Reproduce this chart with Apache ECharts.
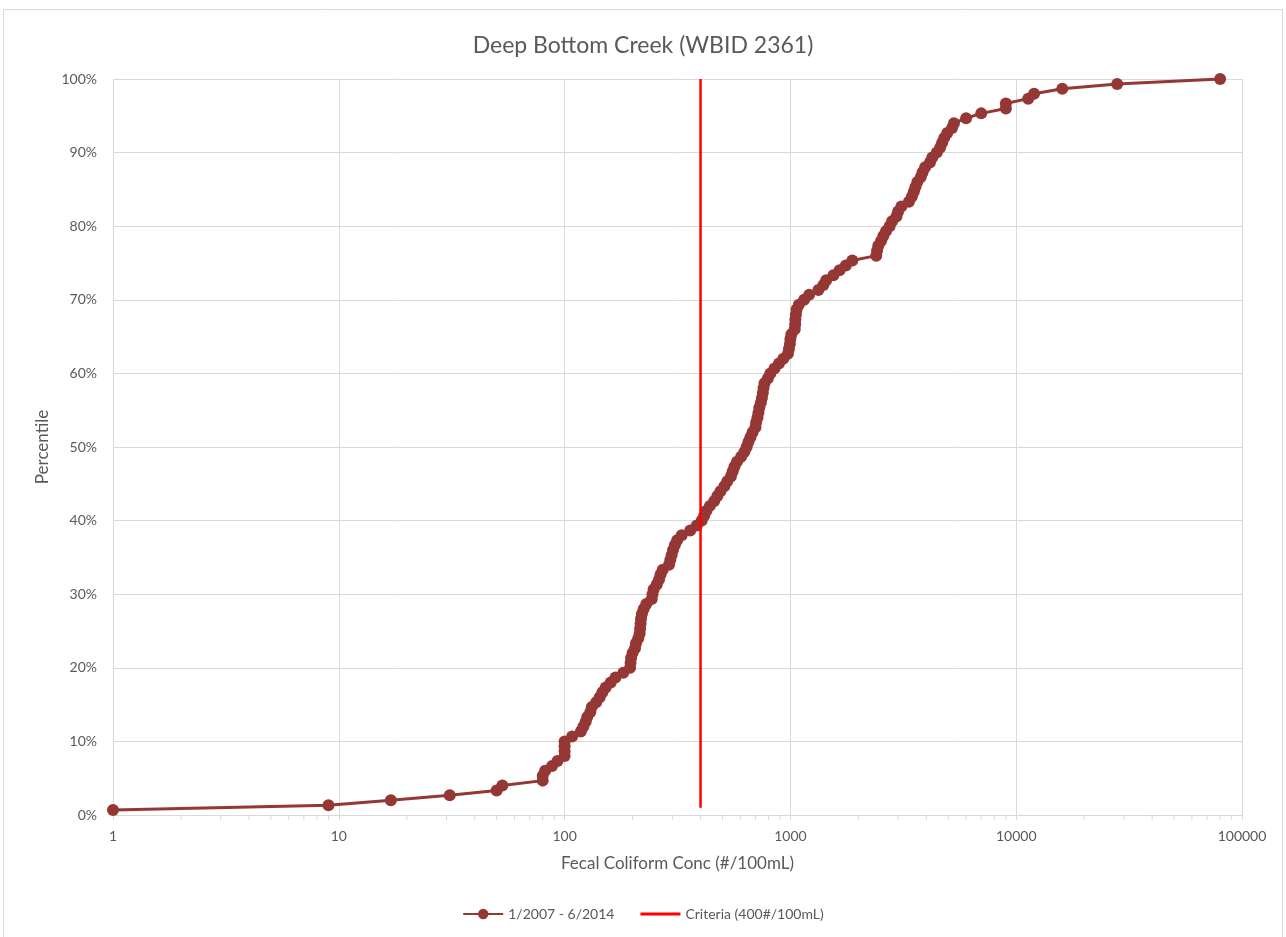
<!DOCTYPE html>
<html>
<head>
<meta charset="utf-8">
<script src="https://cdn.jsdelivr.net/npm/echarts@6/dist/echarts.min.js"></script>
<style>
html,body{margin:0;padding:0;background:#fff;}
#chart{width:1286px;height:937px;}
</style>
</head>
<body>
<div id="chart"></div>
<script>
const chartTitle = 'Deep Bottom Creek (WBID 2361)';
const seriesName = '1/2007 - 6/2014';
const criteriaName = 'Criteria (400#/100mL)';
const xAxisName = 'Fecal Coliform Conc (#/100mL)';
const yAxisName = 'Percentile';

// Fecal coliform concentrations (sorted)
const conc = [
  1, 9, 17, 31, 50, 53, 80, 80, 82, 88,
  93, 100, 100, 100, 100, 108, 118, 121, 124, 126,
  130, 132, 138, 143, 147, 152, 160, 168, 182, 195,
  196, 197, 200, 205, 207, 212, 215, 216, 217, 218,
  220, 224, 230, 243, 245, 248, 256, 262, 266, 272,
  290, 294, 298, 302, 308, 315, 330, 360, 385, 405,
  415, 425, 440, 460, 475, 490, 510, 525, 545, 555,
  565, 580, 605, 625, 640, 652, 665, 680, 700, 705,
  715, 722, 728, 740, 748, 755, 760, 768, 795, 815,
  850, 890, 930, 975, 985, 995, 1000, 1010, 1045, 1050,
  1052, 1058, 1065, 1090, 1150, 1210, 1330, 1400, 1440, 1550,
  1650, 1760, 1880, 2400, 2420, 2450, 2520, 2580, 2650, 2750,
  2820, 2950, 3000, 3100, 3350, 3450, 3520, 3580, 3650, 3780,
  3850, 3950, 4150, 4250, 4450, 4600, 4700, 4800, 4950, 5200,
  5300, 6000, 7000, 9000, 9000, 11300, 12000, 16000, 28000, 80000
];
// Percentiles matching each concentration
const pct = [
  0.67, 1.33, 2.00, 2.67, 3.33, 4.00, 4.67, 5.33, 6.00, 6.67,
  7.33, 8.00, 8.67, 9.33, 10.00, 10.67, 11.33, 12.00, 12.67, 13.33,
  14.00, 14.67, 15.33, 16.00, 16.67, 17.33, 18.00, 18.67, 19.33, 20.00,
  20.67, 21.33, 22.00, 22.67, 23.33, 24.00, 24.67, 25.33, 26.00, 26.67,
  27.33, 28.00, 28.67, 29.33, 30.00, 30.67, 31.33, 32.00, 32.67, 33.33,
  34.00, 34.67, 35.33, 36.00, 36.67, 37.33, 38.00, 38.67, 39.33, 40.00,
  40.67, 41.33, 42.00, 42.67, 43.33, 44.00, 44.67, 45.33, 46.00, 46.67,
  47.33, 48.00, 48.67, 49.33, 50.00, 50.67, 51.33, 52.00, 52.67, 53.33,
  54.00, 54.67, 55.33, 56.00, 56.67, 57.33, 58.00, 58.67, 59.33, 60.00,
  60.67, 61.33, 62.00, 62.67, 63.33, 64.00, 64.67, 65.33, 66.00, 66.67,
  67.33, 68.00, 68.67, 69.33, 70.00, 70.67, 71.33, 72.00, 72.67, 73.33,
  74.00, 74.67, 75.33, 76.00, 76.67, 77.33, 78.00, 78.67, 79.33, 80.00,
  80.67, 81.33, 82.00, 82.67, 83.33, 84.00, 84.67, 85.33, 86.00, 86.67,
  87.33, 88.00, 88.67, 89.33, 90.00, 90.67, 91.33, 92.00, 92.67, 93.33,
  94.00, 94.67, 95.33, 96.00, 96.67, 97.33, 98.00, 98.67, 99.33, 100.00
];
// Criteria line (400 #/100mL)
const criteriaX = [400, 400];
const criteriaY = [1, 100];

// Log axis minor tick positions
const minorTicks = [
  2,3,4,5,6,7,8,9,
  20,30,40,50,60,70,80,90,
  200,300,400,500,600,700,800,900,
  2000,3000,4000,5000,6000,7000,8000,9000,
  20000,30000,40000,50000,60000,70000,80000,90000
];

const TXT = '#595959';
const FONT = 'Lato';
const chart = echarts.init(document.getElementById('chart'), null, {renderer: 'canvas'});

const option = {
  backgroundColor: '#ffffff',
  animation: false,
  textStyle: {fontFamily: FONT},
  title: {
    text: chartTitle,
    left: 'center',
    top: 29,
    textStyle: {fontFamily: FONT, fontSize: 23, fontWeight: 'normal', color: TXT}
  },
  graphic: [{
    type: 'rect',
    shape: {x: 3.5, y: 9.5, width: 1279, height: 940},
    style: {fill: 'none', stroke: '#d9d9d9', lineWidth: 1},
    silent: true,
    z: -1
  }],
  grid: {left: 113, right: 44, top: 79, bottom: 122, containLabel: false},
  legend: {
    bottom: 11,
    left: 'center',
    itemWidth: 40,
    itemHeight: 13,
    itemGap: 26,
    textStyle: {fontFamily: FONT, fontSize: 14, color: TXT},
    data: [
      {name: seriesName},
      {name: criteriaName, icon: 'path://M0,0L100,0L100,8L0,8Z'}
    ]
  },
  xAxis: {
    type: 'log',
    logBase: 10,
    min: 1,
    max: 100000,
    name: xAxisName,
    nameLocation: 'middle',
    nameGap: 40,
    nameTextStyle: {fontFamily: FONT, fontSize: 17, color: TXT},
    axisLine: {show: true, lineStyle: {color: '#d9d9d9', width: 1}},
    axisTick: {show: true, length: 5, lineStyle: {color: '#d9d9d9'}},
    axisLabel: {color: TXT, fontSize: 14, fontFamily: FONT, margin: 14,
      formatter: function (v) { return String(Math.round(v)); }},
    splitLine: {show: true, lineStyle: {color: '#d9d9d9', width: 1}}
  },
  yAxis: {
    type: 'value',
    min: 0,
    max: 100,
    interval: 10,
    name: yAxisName,
    nameLocation: 'middle',
    nameGap: 62,
    nameRotate: 90,
    nameTextStyle: {fontFamily: FONT, fontSize: 17, color: TXT},
    axisLine: {show: false},
    axisTick: {show: false},
    axisLabel: {color: TXT, fontSize: 14, fontFamily: FONT, margin: 16, formatter: '{value}%'},
    splitLine: {show: true, lineStyle: {color: '#d9d9d9', width: 1}}
  },
  series: [
    {
      name: 'minorTicks',
      type: 'custom',
      silent: true,
      data: minorTicks.map(v => [v, 0]),
      renderItem: function (params, api) {
        const p = api.coord([api.value(0), 0]);
        return {
          type: 'line',
          shape: {x1: p[0], y1: p[1], x2: p[0], y2: p[1] + 5},
          style: {stroke: '#d9d9d9', lineWidth: 1}
        };
      },
      z: 1
    },
    {
      name: seriesName,
      type: 'line',
      data: conc.map((v, i) => [v, pct[i]]),
      symbol: 'circle',
      symbolSize: 12,
      showAllSymbol: true,
      color: '#953735',
      lineStyle: {color: '#953735', width: 3},
      itemStyle: {color: '#953735'},
      z: 3
    },
    {
      name: criteriaName,
      type: 'line',
      data: criteriaX.map((v, i) => [v, criteriaY[i]]),
      symbol: 'none',
      color: '#ff0000',
      lineStyle: {color: '#ff0000', width: 2.5},
      z: 4
    }
  ]
};
chart.setOption(option);
</script>
</body>
</html>
